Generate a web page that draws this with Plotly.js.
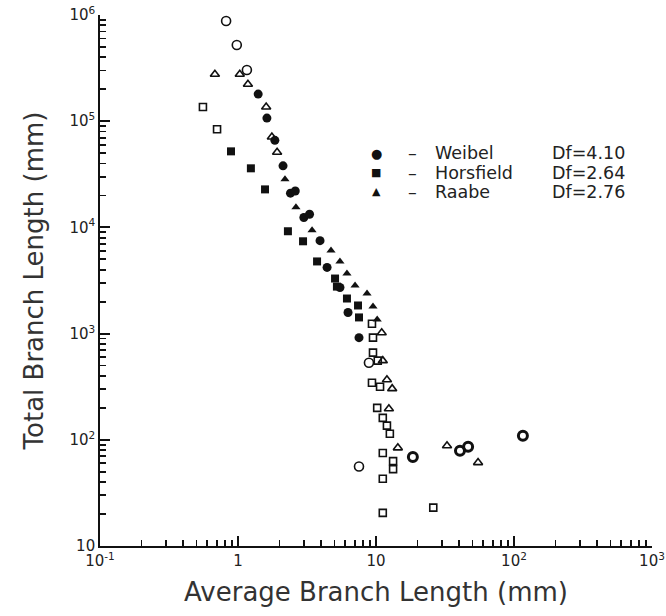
<!DOCTYPE html>
<html>
<head>
<meta charset="utf-8">
<script src="https://cdn.plot.ly/plotly-3.0.1.min.js"></script>
<style>html,body{margin:0;padding:0;background:#fff;}#chart{width:666px;height:616px;}</style>
</head>
<body>
<div id="chart"></div>
<script>
// ---- data (mm) ----
const weibelFilledX = [1.40, 1.62, 1.85, 2.12, 2.40, 2.60, 3.00, 3.30, 3.93, 4.42, 5.48, 6.27, 7.53];
const weibelFilledY = [180000, 107000, 66000, 38000, 21000, 22000, 12400, 13300, 7500, 4200, 2720, 1580, 916];
const weibelOpenX = [0.82, 0.98, 1.16, 8.89, 7.53];
const weibelOpenY = [877000, 521000, 303000, 532, 56];
const weibelRingX = [18.5, 40.6, 46.5, 116];
const weibelRingY = [69, 79, 86, 109];

const horsFilledX = [0.89, 1.24, 1.57, 2.30, 2.96, 3.74, 5.05, 5.21, 6.16, 7.41, 7.53];
const horsFilledY = [52000, 36000, 22800, 9200, 7400, 4780, 3300, 2770, 2140, 1840, 1420];
const horsOpenX = [0.557, 0.705, 9.35, 9.51, 9.51, 10.3, 9.35, 10.7, 10.2, 11.2, 12.0, 12.6, 11.2, 13.3, 13.3, 11.2, 11.2, 26];
const horsOpenY = [136000, 84000, 1240, 916, 662, 556, 345, 316, 200, 161, 136, 114, 75, 63, 53, 43, 20.5, 23];

const raabeFilledX = [2.19, 2.63, 3.44, 4.72, 5.48, 6.16, 7.05, 8.61, 9.51, 10.2];
const raabeFilledY = [28400, 15500, 9400, 6070, 4780, 3680, 2840, 2380, 1800, 1360];
const raabeOpenX = [0.68, 1.03, 1.18, 1.60, 1.76, 1.92, 11.0, 11.2, 12.0, 13.1, 12.4, 14.4, 32.7, 54.9];
const raabeOpenY = [277000, 277000, 223000, 136000, 71000, 51000, 1020, 556, 368, 303, 196, 84, 88, 61];

const legendSymbols = ["●", "■", "▲"];
const legendNames = ["Weibel", "Horsfield", "Raabe"];
const legendDf = ["Df=4.10", "Df=2.64", "Df=2.76"];

const xTickVals = [0.1, 1, 10, 100, 1000];
const xTickText = ["10<sup>-1</sup>", "1", "10", "10<sup>2</sup>", "10<sup>3</sup>"];
const yTickVals = [10, 100, 1000, 10000, 100000, 1000000];
const yTickText = ["10", "10<sup>2</sup>", "10<sup>3</sup>", "10<sup>4</sup>", "10<sup>5</sup>", "10<sup>6</sup>"];

const ink = "#111111";
const FONT = "DejaVu Sans, sans-serif";

function minorTicks(lo, hi) {
  const out = [];
  for (let e = lo; e < hi; e++) for (let d = 2; d <= 9; d++) out.push(d * Math.pow(10, e));
  return out;
}
const xMinor = minorTicks(-1, 3);
const yMinor = minorTicks(1, 6);

function tr(x, y, symbol, size, name, lw) {
  return {
    type: "scatter", mode: "markers", x: x, y: y, name: name, showlegend: false,
    marker: {symbol: symbol, size: size, color: ink, line: {color: ink, width: lw || 0}},
    hoverinfo: "x+y"
  };
}

const data = [
  tr(weibelFilledX, weibelFilledY, "circle", 9, "Weibel"),
  tr(horsFilledX, horsFilledY, "square", 8, "Horsfield"),
  tr(raabeFilledX, raabeFilledY, "triangle-up", 8, "Raabe"),
  tr(weibelOpenX, weibelOpenY, "circle-open", 9, "Weibel (open)", 1.6),
  tr(weibelRingX, weibelRingY, "circle-open", 9, "Weibel (ring)", 3),
  tr(horsOpenX, horsOpenY, "square-open", 7, "Horsfield (open)", 1.6),
  tr(raabeOpenX, raabeOpenY, "triangle-up-open", 8, "Raabe (open)", 1.6),
  // empty carrier trace so the overlaid minor-tick axes are drawn
  {type: "scatter", mode: "markers", x: [], y: [], xaxis: "x2", yaxis: "y2", showlegend: false, hoverinfo: "skip"}
];

const PX = px => (px - 100) / 552;
const PY = py => 1 - (py - 15) / 531;
const annotations = [];
legendNames.forEach((n, i) => {
  const yy = PY(153 + 19.5 * i);
  const txt = {family: FONT, size: 17.5, color: "#222"};
  annotations.push({xref: "paper", yref: "paper", x: PX(376), y: yy, xanchor: "center", yanchor: "middle",
    text: legendSymbols[i], showarrow: false, font: {family: FONT, size: i === 0 ? 13 : 11, color: ink}});
  annotations.push({xref: "paper", yref: "paper", x: PX(412), y: yy, xanchor: "center", yanchor: "middle",
    text: "–", showarrow: false, font: txt});
  annotations.push({xref: "paper", yref: "paper", x: PX(433), y: yy, xanchor: "left", yanchor: "middle",
    text: n, showarrow: false, font: txt});
  annotations.push({xref: "paper", yref: "paper", x: PX(550), y: yy, xanchor: "left", yanchor: "middle",
    text: legendDf[i], showarrow: false, font: txt});
});

const majorCommon = {
  type: "log", showgrid: false, zeroline: false,
  showline: true, linecolor: ink, linewidth: 1.8, mirror: false,
  ticks: "inside", ticklen: 10, tickwidth: 2, tickcolor: ink,
  tickmode: "array", tickfont: {family: FONT, size: 15, color: "#222"}
};
const minorCommon = {
  type: "log", showgrid: false, zeroline: false, showline: false,
  ticks: "inside", ticklen: 6, tickwidth: 1.8, tickcolor: ink,
  tickmode: "array", showticklabels: false
};

const layout = {
  width: 666, height: 616,
  margin: {l: 100, r: 14, t: 15, b: 70},
  paper_bgcolor: "#ffffff", plot_bgcolor: "#ffffff",
  font: {family: FONT, color: "#222", size: 15},
  showlegend: false,
  xaxis: Object.assign({}, majorCommon, {
    range: [-1, 3], tickvals: xTickVals, ticktext: xTickText,
    title: {text: "Average Branch Length (mm)", font: {family: FONT, size: 26, color: "#333"}, standoff: 14}
  }),
  yaxis: Object.assign({}, majorCommon, {
    range: [1, 6], tickvals: yTickVals, ticktext: yTickText,
    title: {text: "Total Branch Length (mm)", font: {family: FONT, size: 26, color: "#333"}, standoff: 18}
  }),
  xaxis2: Object.assign({}, minorCommon, {range: [-1, 3], tickvals: xMinor, overlaying: "x", anchor: "y", side: "bottom"}),
  yaxis2: Object.assign({}, minorCommon, {range: [1, 6], tickvals: yMinor, overlaying: "y", anchor: "x", side: "left"}),
  annotations: annotations
};

Plotly.newPlot("chart", data, layout, {displayModeBar: false, staticPlot: true});
</script>
</body>
</html>
